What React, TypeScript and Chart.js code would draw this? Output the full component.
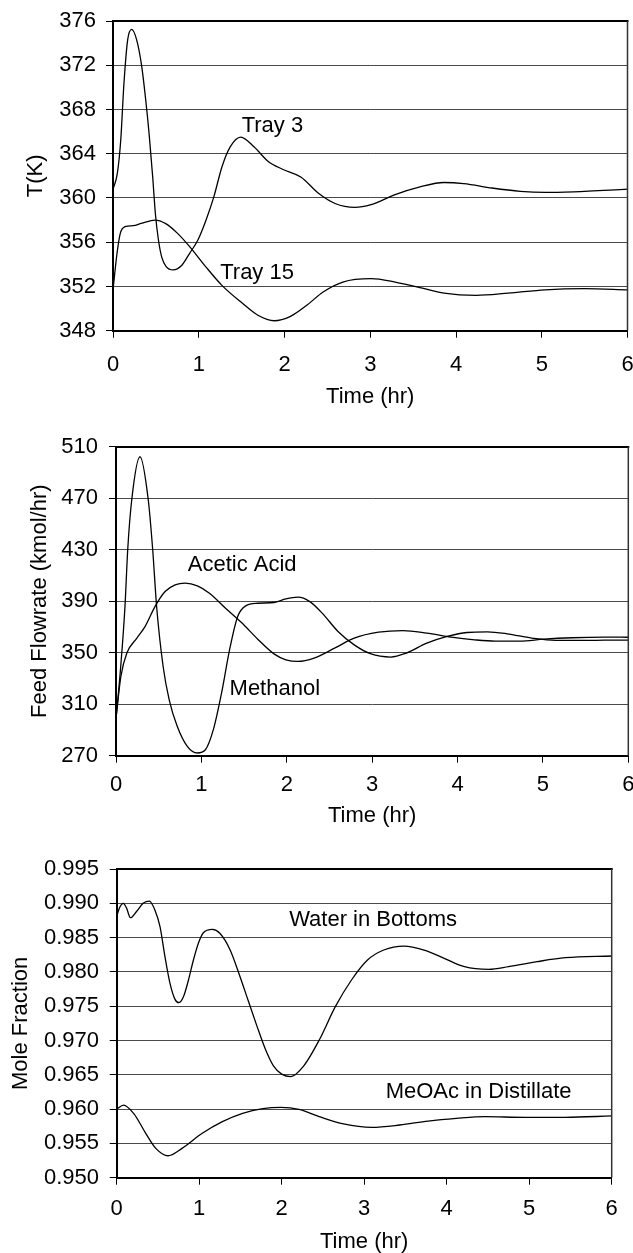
import { useEffect, useRef } from "react";
import { Chart, registerables } from "chart.js";

Chart.register(...registerables);

const FONT = '"Liberation Sans", Arial, Helvetica, sans-serif';

// Shared time axis (hr)
const timeTicks = [0, 1, 2, 3, 4, 5, 6];

// Panel 1: tray temperatures (K)
const tempTicks = [348, 352, 356, 360, 364, 368, 372, 376];
const tray3Time = [0, 0.05, 0.09, 0.128, 0.171, 0.218, 0.276, 0.335, 0.381, 0.42, 0.463, 0.494, 0.53, 0.57, 0.62, 0.7, 0.8, 0.894, 0.99, 1.08, 1.176, 1.27, 1.365, 1.49, 1.647, 1.81, 1.976, 2.19, 2.4, 2.59, 2.82, 3.01, 3.29, 3.58, 3.86, 4.09, 4.42, 4.75, 5.04, 5.37, 6];
const tray3Temp = [360.8, 362.2, 365.2, 370.4, 374.3, 375.25, 374.3, 371.9, 368.9, 365.9, 361.9, 358.6, 356.2, 354.6, 353.8, 353.5, 353.9, 355.0, 356.2, 357.9, 360.1, 362.8, 364.6, 365.5, 364.6, 363.3, 362.6, 361.9, 360.4, 359.5, 359.15, 359.4, 360.3, 361.0, 361.4, 361.3, 360.9, 360.6, 360.5, 360.56, 360.8];
const tray15Time = [0, 0.047, 0.085, 0.14, 0.235, 0.33, 0.49, 0.61, 0.753, 0.894, 1.08, 1.27, 1.506, 1.69, 1.88, 2.07, 2.26, 2.45, 2.68, 3.01, 3.29, 3.58, 3.86, 4.235, 4.61, 5.04, 5.5, 6];
const tray15Temp = [351.7, 355.0, 356.8, 357.4, 357.5, 357.7, 358.0, 357.7, 356.8, 355.6, 353.8, 352.1, 350.5, 349.4, 348.9, 349.3, 350.3, 351.5, 352.4, 352.7, 352.4, 351.9, 351.4, 351.2, 351.4, 351.7, 351.8, 351.7];

// Panel 2: feed flowrates (kmol/hr)
const flowTicks = [270, 310, 350, 390, 430, 470, 510];
const methanolTime = [0, 0.05, 0.105, 0.137, 0.184, 0.281, 0.378, 0.43, 0.476, 0.552, 0.623, 0.717, 0.835, 0.953, 1.047, 1.14, 1.236, 1.33, 1.425, 1.519, 1.66, 1.85, 1.99, 2.13, 2.27, 2.415, 2.6, 2.79, 2.98, 3.217, 3.4, 3.64, 3.88, 4.11, 4.35, 4.58, 4.87, 5.15, 5.48, 5.72, 6];
const methanolFlow = [299, 335, 385.7, 429.8, 468.6, 502.2, 468.6, 429.8, 385.7, 339.3, 313.4, 292.8, 277.2, 272.1, 274.6, 290.2, 318.6, 352.2, 378.1, 386.4, 388.4, 389, 391.8, 393.1, 389.7, 380.7, 366.5, 356.1, 349.2, 346.6, 349.7, 357.4, 362.6, 365.7, 366.2, 364.7, 361.3, 359.5, 359.5, 359.7, 359.8];
const aceticTime = [0, 0.057, 0.127, 0.245, 0.34, 0.458, 0.575, 0.693, 0.81, 0.953, 1.094, 1.283, 1.47, 1.66, 1.85, 1.99, 2.13, 2.32, 2.56, 2.79, 3.075, 3.36, 3.64, 3.925, 4.2, 4.44, 4.73, 5.01, 5.34, 5.72, 6];
const aceticFlow = [299, 331.5, 349.7, 361.4, 370.3, 386, 397.5, 402.7, 404, 401.9, 396.2, 384.6, 373.4, 360.5, 349.1, 344.5, 343.2, 345.8, 353.5, 361.3, 365.9, 367.2, 365.2, 362.1, 360, 359, 359, 360.5, 361.6, 362.1, 362.0];

// Panel 3: product purities (mole fraction)
const fracTicks = [0.95, 0.955, 0.96, 0.965, 0.97, 0.975, 0.98, 0.985, 0.99, 0.995];
const waterTime = [0, 0.04, 0.08, 0.12, 0.166, 0.24, 0.32, 0.396, 0.464, 0.525, 0.585, 0.646, 0.707, 0.755, 0.81, 0.87, 0.93, 0.99, 1.05, 1.16, 1.25, 1.375, 1.495, 1.6, 1.7, 1.8, 1.9, 2.0, 2.11, 2.26, 2.455, 2.65, 2.846, 3.04, 3.237, 3.48, 3.726, 3.97, 4.215, 4.51, 4.75, 5.095, 5.44, 6];
const waterFrac = [0.98815, 0.9895, 0.99, 0.9893, 0.9879, 0.9888, 0.99, 0.99033, 0.989, 0.9866, 0.98222, 0.97833, 0.976, 0.97551, 0.9764, 0.97882, 0.98173, 0.98417, 0.98571, 0.9862, 0.98563, 0.9832, 0.9793, 0.9756, 0.9721, 0.9688, 0.9663, 0.9651, 0.96473, 0.96618, 0.97007, 0.97493, 0.97882, 0.98173, 0.98319, 0.98377, 0.98319, 0.98198, 0.98076, 0.98037, 0.98076, 0.98149, 0.98207, 0.98232];
const meoacTime = [0, 0.083, 0.205, 0.352, 0.474, 0.62, 0.792, 1.037, 1.281, 1.526, 1.77, 1.99, 2.21, 2.455, 2.75, 3.09, 3.43, 3.775, 4.117, 4.46, 4.95, 5.44, 6];
const meoacFrac = [0.95996, 0.96059, 0.95938, 0.95647, 0.95428, 0.9532, 0.95428, 0.95647, 0.95817, 0.95938, 0.96006, 0.96026, 0.95996, 0.9589, 0.95783, 0.95734, 0.95768, 0.95826, 0.95865, 0.9589, 0.9588, 0.9588, 0.959];

type Series = { time: number[]; value: number[] };
type CurveLabel = { text: string; t: number; v: number };

type PanelSpec = {
  top: number;
  height: number;
  padTop: number;
  padRight: number;
  yWidth: number;
  xHeight: number;
  xTickPad: number;
  yTickPad: number;
  yTitlePad: number;
  xTitlePad: number;
  yTitle: string;
  yTicks: number[];
  decimals: number;
  series: Series[];
  labels: CurveLabel[];
};

// Closes the plot box on the top and right sides
const framePlugin = {
  id: "frame",
  afterDraw(chart: any) {
    const { ctx, chartArea: a } = chart;
    ctx.save();
    ctx.strokeStyle = "#000";
    ctx.lineWidth = 2;
    ctx.beginPath();
    ctx.moveTo(a.left, Math.round(a.top));
    ctx.lineTo(a.right + 1, Math.round(a.top));
    ctx.stroke();
    ctx.strokeStyle = "#333";
    ctx.lineWidth = 1.5;
    ctx.beginPath();
    ctx.moveTo(a.right, a.top);
    ctx.lineTo(a.right, a.bottom);
    ctx.stroke();
    ctx.restore();
  },
};

// Writes the curve names next to their lines, in data coordinates
function curveLabelPlugin(labels: CurveLabel[]) {
  return {
    id: "curveLabels",
    afterDatasetsDraw(chart: any) {
      const { ctx, scales } = chart;
      ctx.save();
      ctx.fillStyle = "#000";
      ctx.font = `22px ${FONT}`;
      ctx.textAlign = "left";
      ctx.textBaseline = "middle";
      for (const l of labels) {
        ctx.fillText(l.text, scales.x.getPixelForValue(l.t), scales.y.getPixelForValue(l.v));
      }
      ctx.restore();
    },
  };
}

function Panel(p: PanelSpec) {
  const ref = useRef<HTMLCanvasElement>(null);

  useEffect(() => {
    const canvas = ref.current;
    if (!canvas) return;
    const tickFont = { family: FONT, size: 22, lineHeight: 1 };
    const chart = new Chart(canvas, {
      type: "line",
      data: {
        datasets: p.series.map((s) => ({
          data: s.time.map((t, i) => ({ x: t, y: s.value[i] })),
          borderColor: "#000",
          borderWidth: 1.3,
          pointRadius: 0,
          fill: false,
          cubicInterpolationMode: "monotone",
        })),
      },
      options: {
        responsive: false,
        animation: false,
        devicePixelRatio: 1,
        events: [],
        layout: { padding: { top: p.padTop, right: p.padRight, left: 0, bottom: 0 } },
        plugins: { legend: { display: false }, tooltip: { enabled: false } },
        scales: {
          x: {
            type: "linear",
            min: timeTicks[0],
            max: timeTicks[timeTicks.length - 1],
            afterBuildTicks: (s: any) => {
              s.ticks = timeTicks.map((v) => ({ value: v }));
            },
            afterFit: (s: any) => {
              s.height = p.xHeight;
              s.paddingLeft = 0;
              s.paddingRight = 0;
            },
            grid: { drawOnChartArea: false, tickLength: 7, tickColor: "#000", tickWidth: 1 },
            border: { color: "#000", width: 2 },
            ticks: {
              color: "#000",
              font: tickFont,
              padding: p.xTickPad,
              maxRotation: 0,
              autoSkip: false,
              callback: (v: any) => String(v),
            },
            title: {
              display: true,
              text: "Time (hr)",
              color: "#000",
              font: tickFont,
              padding: { top: 0, bottom: p.xTitlePad },
            },
          },
          y: {
            type: "linear",
            min: p.yTicks[0],
            max: p.yTicks[p.yTicks.length - 1],
            afterBuildTicks: (s: any) => {
              s.ticks = p.yTicks.map((v) => ({ value: v }));
            },
            afterFit: (s: any) => {
              s.width = p.yWidth;
              s.paddingTop = 0;
              s.paddingBottom = 0;
            },
            grid: { color: "#4a4a4a", lineWidth: 1, tickLength: 7, tickColor: "#000", tickWidth: 1 },
            border: { color: "#000", width: 2 },
            ticks: {
              color: "#000",
              font: tickFont,
              padding: p.yTickPad,
              autoSkip: false,
              callback: (v: any) => Number(v).toFixed(p.decimals),
            },
            title: {
              display: true,
              text: p.yTitle,
              color: "#000",
              font: tickFont,
              padding: { top: p.yTitlePad, bottom: 0 },
            },
          },
        },
      } as any,
      plugins: [framePlugin, curveLabelPlugin(p.labels)],
    });
    return () => chart.destroy();
  }, []);

  return (
    <canvas
      ref={ref}
      width={633}
      height={p.height}
      style={{ position: "absolute", left: 0, top: p.top, width: 633, height: p.height, display: "block" }}
    />
  );
}

export default function App() {
  return (
    <div
      style={{
        position: "absolute",
        left: 0,
        top: 0,
        width: 633,
        height: 1253,
        overflow: "hidden",
        background: "#fff",
      }}
    >
      <Panel
        top={0}
        height={420}
        padTop={21}
        padRight={5.5}
        yWidth={113}
        xHeight={89.3}
        xTickPad={16}
        yTickPad={10}
        yTitlePad={25}
        xTitlePad={12}
        yTitle="T(K)"
        yTicks={tempTicks}
        decimals={0}
        series={[
          { time: tray3Time, value: tray3Temp },
          { time: tray15Time, value: tray15Temp },
        ]}
        labels={[
          { text: "Tray 3", t: 1.5, v: 366.5 },
          { text: "Tray 15", t: 1.25, v: 353.2 },
        ]}
      />
      <Panel
        top={420}
        height={420}
        padTop={26.7}
        padRight={4.7}
        yWidth={116}
        xHeight={84.3}
        xTickPad={11}
        yTickPad={11}
        yTitlePad={28.5}
        xTitlePad={13}
        yTitle="Feed Flowrate (kmol/hr)"
        yTicks={flowTicks}
        decimals={0}
        series={[
          { time: methanolTime, value: methanolFlow },
          { time: aceticTime, value: aceticFlow },
        ]}
        labels={[
          { text: "Acetic Acid", t: 0.84, v: 418.2 },
          { text: "Methanol", t: 1.33, v: 322 },
        ]}
      />
      <Panel
        top={840}
        height={413}
        padTop={29}
        padRight={21.3}
        yWidth={116.7}
        xHeight={75.3}
        xTickPad={13}
        yTickPad={10.7}
        yTitlePad={10}
        xTitlePad={0}
        yTitle="Mole Fraction"
        yTicks={fracTicks}
        decimals={3}
        series={[
          { time: waterTime, value: waterFrac },
          { time: meoacTime, value: meoacFrac },
        ]}
        labels={[
          { text: "Water in Bottoms", t: 2.09, v: 0.98756 },
          { text: "MeOAc in Distillate", t: 3.26, v: 0.96254 },
        ]}
      />
    </div>
  );
}
